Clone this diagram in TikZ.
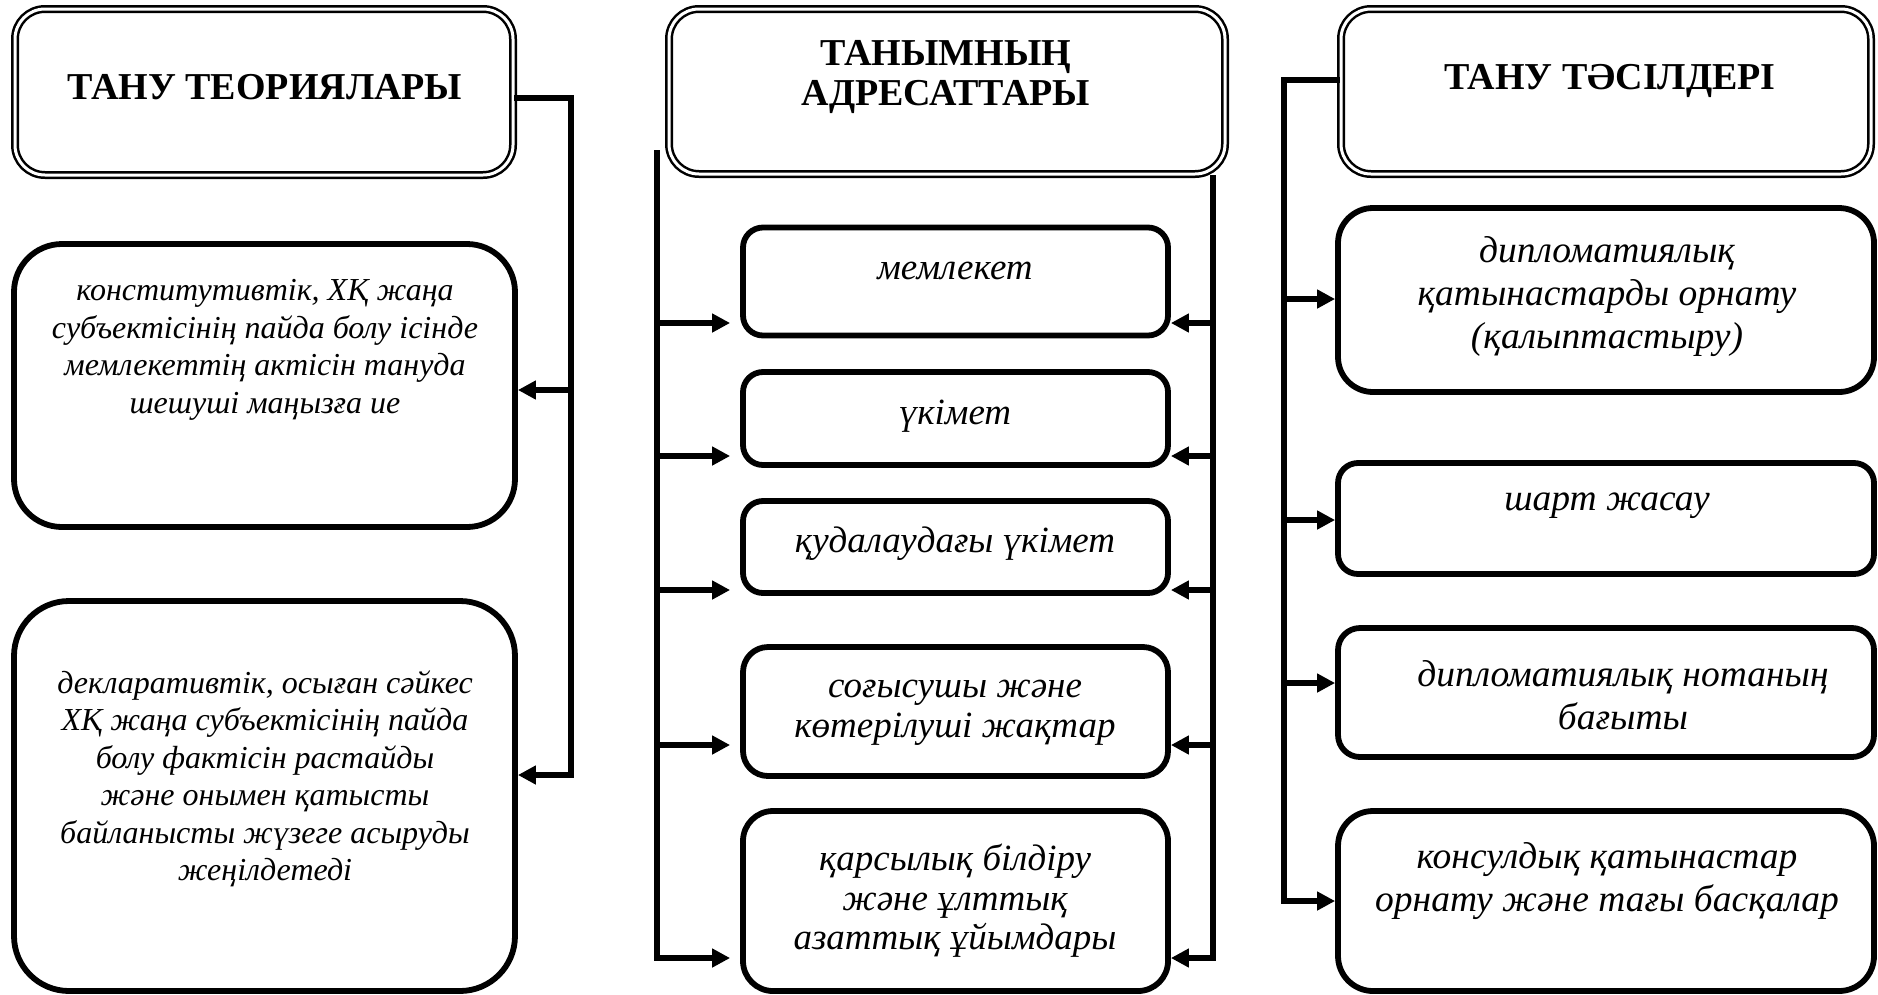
\documentclass[tikz,border=0pt]{standalone}
\usepackage{fontspec}
\setmainfont{Liberation Serif}
\usetikzlibrary{arrows.meta}
\tikzset{
  hdr/.style={draw, double, line width=2.5pt, double distance=3pt, rounded corners=30pt, inner sep=0pt},
  rbox/.style={draw, line width=5.8pt, inner sep=0pt},
  itxt/.style={font=\fontsize{32}{37.5}\selectfont\itshape, align=center, inner sep=0pt},
  mtxt/.style={font=\fontsize{37}{39.5}\selectfont\itshape, align=center, inner sep=0pt},
  rtxt/.style={font=\fontsize{37.5}{43}\selectfont\itshape, align=center, inner sep=0pt},
  btxt/.style={font=\fontsize{38}{40}\selectfont\bfseries, align=center, inner sep=0pt},
  arr/.style={line width=5.8pt, -{Triangle[length=18pt,width=18pt]}},
}
\begin{document}
\begin{tikzpicture}[x=1pt,y=-1pt]
\useasboundingbox (0,0) rectangle (1878,994);
% headers
\node[hdr, minimum width=498pt, minimum height=166pt] (H1) at (264,92) {};
\node[hdr, minimum width=556pt, minimum height=165pt] (H2) at (947,91.5) {};
\node[hdr, minimum width=530pt, minimum height=165pt] (H3) at (1606,91.5) {};
\node[btxt] (t1) at (265,87) {ТАНУ ТЕОРИЯЛАРЫ};
\node[btxt] (t2) at (946,77) {ТАНЫМНЫҢ\\АДРЕСАТТАРЫ};
\node[btxt] (t3) at (1610,81) {ТАНУ ТӘСІЛДЕРІ};
% left column boxes
\node[rbox, rounded corners=48pt, minimum width=501pt, minimum height=283pt] (B1) at (264.5,385.5) {};
\node[rbox, rounded corners=55pt, minimum width=501pt, minimum height=390pt] (B2) at (264.5,796) {};
\node[itxt] (tb1) at (265,350) {конститутивтік, ХҚ жаңа\\субъектісінің пайда болу ісінде\\мемлекеттің актісін тануда\\шешуші маңызға ие};
\node[itxt] (tb2) at (265,779) {декларативтік, осыған сәйкес\\ХҚ жаңа субъектісінің пайда\\болу фактісін растайды\\және онымен қатысты\\байланысты жүзеге асыруды\\жеңілдетеді};
% middle column boxes
\node[rbox, rounded corners=20pt, minimum width=425pt, minimum height=108pt] (M1) at (955.5,281.5) {};
\node[rbox, rounded corners=20pt, minimum width=425pt, minimum height=93pt] (M2) at (955.5,418.5) {};
\node[rbox, rounded corners=20pt, minimum width=425pt, minimum height=92pt] (M3) at (955.5,547) {};
\node[rbox, rounded corners=25pt, minimum width=425pt, minimum height=129pt] (M4) at (955.5,711.5) {};
\node[rbox, rounded corners=30pt, minimum width=425pt, minimum height=180pt] (M5) at (955.5,901) {};
\node[mtxt] (tm1) at (955,271) {мемлекет};
\node[mtxt] (tm2) at (955,416) {үкімет};
\node[mtxt] (tm3) at (955,544) {қудалаудағы үкімет};
\node[mtxt] (tm4) at (955,713) {соғысушы және\\көтерілуші жақтар};
\node[mtxt] (tm5) at (955,901) {қарсылық білдіру\\және ұлттық\\азаттық ұйымдары};
% right column boxes
\node[rbox, rounded corners=35pt, minimum width=536pt, minimum height=184pt] (R1) at (1606,300) {};
\node[rbox, rounded corners=20pt, minimum width=536pt, minimum height=111pt] (R2) at (1606,518.5) {};
\node[rbox, rounded corners=22pt, minimum width=536pt, minimum height=129pt] (R3) at (1606,692.5) {};
\node[rbox, rounded corners=35pt, minimum width=536pt, minimum height=180pt] (R4) at (1606,901) {};
\node[rtxt] (tr1) at (1607,297) {дипломатиялық\\қатынастарды орнату\\(қалыптастыру)};
\node[rtxt] (tr2) at (1607,506) {шарт жасау};
\node[rtxt] (tr3) at (1623,695) {дипломатиялық нотаның\\бағыты};
\node[rtxt] (tr4) at (1607,881) {консулдық қатынастар\\орнату және тағы басқалар};
% left connectors
\coordinate (l0) at (571,98);
\coordinate (l1) at (571,390);
\coordinate (l2) at (571,775);
\draw[arr] (H1.east |- l0) -| (l2) -- (l2 -| B2.east);
\draw[arr] (l1) -- (l1 -| B1.east);
% middle left bus
\coordinate (ml0) at (657,150);
\coordinate (ml1) at (657,323);
\coordinate (ml2) at (657,456);
\coordinate (ml3) at (657,590);
\coordinate (ml4) at (657,745);
\coordinate (ml5) at (657,958);
\draw[arr, shorten >=10pt] (ml0) -- (ml5) -- (ml5 -| M5.west);
\draw[arr, shorten >=10pt] (ml1) -- (ml1 -| M1.west);
\draw[arr, shorten >=10pt] (ml2) -- (ml2 -| M2.west);
\draw[arr, shorten >=10pt] (ml3) -- (ml3 -| M3.west);
\draw[arr, shorten >=10pt] (ml4) -- (ml4 -| M4.west);
% middle right bus
\coordinate (mr1) at (1213,323);
\coordinate (mr2) at (1213,456);
\coordinate (mr3) at (1213,590);
\coordinate (mr4) at (1213,745);
\coordinate (mr5) at (1213,958);
\draw[arr] (H2.south -| mr5) -- (mr5) -- (mr5 -| M5.east);
\draw[arr] (mr1) -- (mr1 -| M1.east);
\draw[arr] (mr2) -- (mr2 -| M2.east);
\draw[arr] (mr3) -- (mr3 -| M3.east);
\draw[arr] (mr4) -- (mr4 -| M4.east);
% right connectors
\coordinate (r0) at (1284,80);
\coordinate (r1) at (1284,299);
\coordinate (r2) at (1284,520);
\coordinate (r3) at (1284,683);
\coordinate (r4) at (1284,901);
\draw[arr] (H3.west |- r0) -| (r4) -- (r4 -| R4.west);
\draw[arr] (r1) -- (r1 -| R1.west);
\draw[arr] (r2) -- (r2 -| R2.west);
\draw[arr] (r3) -- (r3 -| R3.west);
\end{tikzpicture}
\end{document}
